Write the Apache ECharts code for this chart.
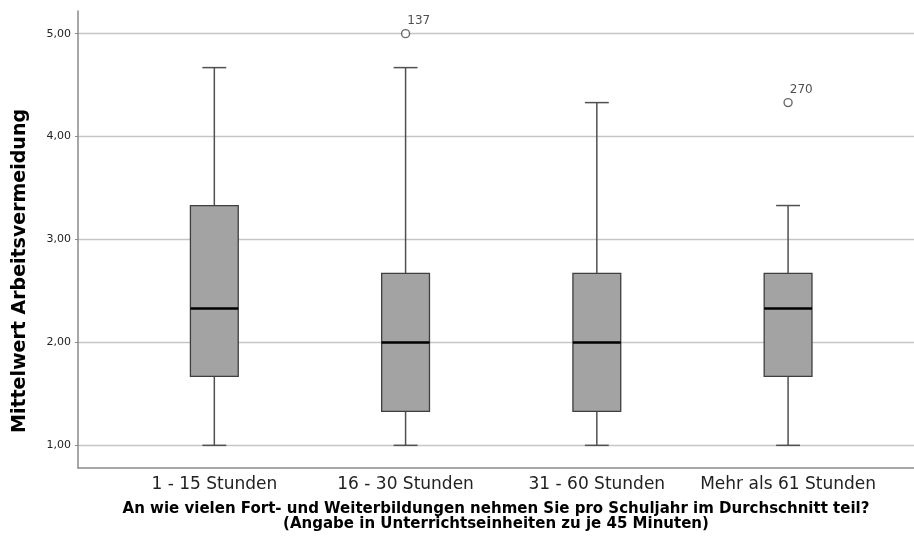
<!DOCTYPE html>
<html>
<head>
<meta charset="utf-8">
<script src="https://cdn.jsdelivr.net/npm/echarts@6/dist/echarts.min.js"></script>
<style>
  html, body { margin: 0; padding: 0; background: #ffffff; }
  #chart { width: 914px; height: 548px; }
</style>
</head>
<body>
<div id="chart"></div>
<script>
// Weiterbildungsumfang (Gruppen) und Mittelwert Arbeitsvermeidung
const categories = ['1 - 15 Stunden', '16 - 30 Stunden', '31 - 60 Stunden', 'Mehr als 61 Stunden'];
const whiskerLow  = [1.00, 1.00, 1.00, 1.00];
const quartile1   = [1.67, 1.33, 1.33, 1.67];
const medians     = [2.33, 2.00, 2.00, 2.33];
const quartile3   = [3.33, 2.67, 2.67, 2.67];
const whiskerHigh = [4.67, 4.67, 4.33, 3.33];

// Ausreißer mit Fallnummer
const outlierCategory = [1, 3];
const outlierValues   = [5.00, 4.33];
const outlierIds      = ['137', '270'];

const yTicks = [1, 2, 3, 4, 5];
const yMin = 0.78;
const yMax = 5.22;

const boxRows = categories.map((c, i) => [i, whiskerLow[i], quartile1[i], medians[i], quartile3[i], whiskerHigh[i]]);
const outlierRows = outlierCategory.map((c, i) => [c, outlierValues[i], outlierIds[i]]);

const fmt = v => v.toFixed(2).replace('.', ',');

function renderBox(params, api) {
  const x = api.value(0);
  const lo = api.coord([x, api.value(1)]);
  const q1 = api.coord([x, api.value(2)]);
  const md = api.coord([x, api.value(3)]);
  const q3 = api.coord([x, api.value(4)]);
  const hi = api.coord([x, api.value(5)]);
  const band = api.size([1, 0])[0];
  const bw = band * 0.25;
  const cap = bw / 4;
  const cx = lo[0];
  const whisker = { stroke: '#505050', lineWidth: 1.5 };
  return {
    type: 'group',
    children: [
      { type: 'line', shape: { x1: cx, y1: hi[1], x2: cx, y2: q3[1] }, style: whisker },
      { type: 'line', shape: { x1: cx, y1: q1[1], x2: cx, y2: lo[1] }, style: whisker },
      { type: 'line', shape: { x1: cx - cap, y1: hi[1], x2: cx + cap, y2: hi[1] }, style: whisker },
      { type: 'line', shape: { x1: cx - cap, y1: lo[1], x2: cx + cap, y2: lo[1] }, style: whisker },
      {
        type: 'rect',
        shape: { x: cx - bw / 2, y: q3[1], width: bw, height: q1[1] - q3[1] },
        style: { fill: '#a3a3a3', stroke: '#3f3f3f', lineWidth: 1.3 }
      },
      { type: 'line', shape: { x1: cx - bw / 2, y1: md[1], x2: cx + bw / 2, y2: md[1] }, style: { stroke: '#000000', lineWidth: 2.4 } }
    ]
  };
}

const chart = echarts.init(document.getElementById('chart'), null, { renderer: 'canvas' });

chart.setOption({
  animation: false,
  backgroundColor: '#ffffff',
  grid: [
    { left: 78, right: 0, top: 11, bottom: 80, containLabel: false, outerBoundsMode: 'none' },
    { left: 118.7, right: 30.3, top: 11, bottom: 80, containLabel: false, outerBoundsMode: 'none' }
  ],
  xAxis: [
    {
      gridIndex: 0,
      type: 'value',
      min: 0,
      max: 1,
      axisLine: { show: true, onZero: false, lineStyle: { color: '#8a8a8a', width: 1.5 } },
      axisTick: { show: false },
      axisLabel: { show: false },
      splitLine: { show: false },
      name: 'An wie vielen Fort- und Weiterbildungen nehmen Sie pro Schuljahr im Durchschnitt teil?\n(Angabe in Unterrichtseinheiten zu je 45 Minuten)',
      nameLocation: 'middle',
      nameGap: 34,
      nameTextStyle: {
        fontFamily: 'DejaVu Sans',
        fontWeight: 'bold',
        fontSize: 15,
        lineHeight: 15,
        color: '#000000',
        align: 'center'
      }
    },
    {
      gridIndex: 1,
      type: 'category',
      data: categories,
      axisLine: { show: false },
      axisTick: { show: false },
      splitLine: { show: false },
      axisLabel: {
        margin: 8,
        fontFamily: 'DejaVu Sans',
        fontSize: 17,
        color: '#222222',
        interval: 0
      }
    }
  ],
  yAxis: [
    {
      gridIndex: 0,
      type: 'value',
      min: yMin,
      max: yMax,
      axisLine: { show: true, lineStyle: { color: '#8a8a8a', width: 1.5 } },
      axisTick: { show: true, length: 3, customValues: yTicks, lineStyle: { color: '#8a8a8a' } },
      axisLabel: {
        customValues: yTicks,
        formatter: v => fmt(v),
        margin: 7,
        fontFamily: 'DejaVu Sans',
        fontSize: 11,
        color: '#222222'
      },
      splitLine: { show: true, lineStyle: { color: '#c6c6c6', width: 1.4 } },
      name: 'Mittelwert Arbeitsvermeidung',
      nameLocation: 'middle',
      nameGap: 48,
      nameTextStyle: {
        fontFamily: 'DejaVu Sans',
        fontWeight: 'bold',
        fontSize: 19,
        color: '#000000',
        padding: [0, 63, 0, 0]
      }
    },
    {
      gridIndex: 1,
      type: 'value',
      min: yMin,
      max: yMax,
      show: false
    }
  ],
  series: [
    {
      type: 'custom',
      name: 'Boxplot',
      xAxisIndex: 1,
      yAxisIndex: 1,
      renderItem: renderBox,
      encode: { x: 0, y: [1, 2, 3, 4, 5] },
      data: boxRows,
      z: 3
    },
    {
      type: 'scatter',
      name: 'Ausreißer',
      xAxisIndex: 1,
      yAxisIndex: 1,
      symbol: 'circle',
      symbolSize: 8,
      itemStyle: { color: '#ffffff', borderColor: '#444444', borderWidth: 1.4 },
      label: {
        show: true,
        formatter: p => p.value[2],
        position: 'right',
        distance: 0,
        offset: [-3, -13],
        fontFamily: 'DejaVu Sans',
        fontSize: 12,
        color: '#222222'
      },
      data: outlierRows,
      z: 4
    }
  ]
});
</script>
</body>
</html>
